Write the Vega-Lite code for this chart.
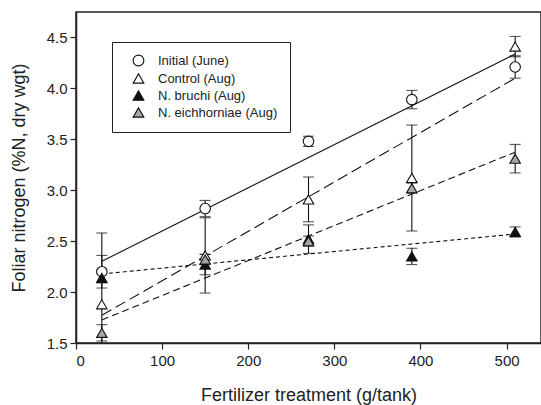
{
  "$schema": "https://vega.github.io/schema/vega-lite/v6.json",
  "autosize": "none",
  "width": 465,
  "height": 331,
  "padding": {"left": 76, "top": 12, "right": 0, "bottom": 62},
  "background": "white",
  "config": {
    "font": "Liberation Sans",
    "view": {"stroke": "#222", "strokeWidth": 1.5},
    "axis": {
      "grid": false,
      "domainColor": "#222",
      "domainWidth": 1.5,
      "tickColor": "#222",
      "tickWidth": 1.2,
      "tickSize": 6,
      "labelFont": "Liberation Sans",
      "labelFontSize": 15,
      "labelColor": "#222",
      "titleFont": "Liberation Sans",
      "titleFontSize": 18,
      "titleFontWeight": "normal",
      "titleColor": "#222"
    },
    "legend": {
      "orient": "none",
      "legendX": 36,
      "legendY": 30,
      "padding": 12,
      "symbolOffset": 8,
      "labelOffset": 13,
      "rowPadding": 2,
      "symbolSize": 115,
      "strokeColor": "#222",
      "fillColor": "white",
      "symbolStrokeWidth": 1.1,
      "labelFont": "Liberation Sans",
      "labelFontSize": 13,
      "labelColor": "#222"
    }
  },
  "data": {
    "values": [
      {"series": "Initial (June)", "x": 30, "mean": 2.2, "err": 0.16},
      {"series": "Initial (June)", "x": 150, "mean": 2.82, "err": 0.08},
      {"series": "Initial (June)", "x": 270, "mean": 3.48, "err": 0.05},
      {"series": "Initial (June)", "x": 390, "mean": 3.89, "err": 0.09},
      {"series": "Initial (June)", "x": 510, "mean": 4.21, "err": 0.11},
      {"series": "Control (Aug)", "x": 30, "mean": 1.88, "err": 0.7},
      {"series": "Control (Aug)", "x": 150, "mean": 2.36, "err": 0.37},
      {"series": "Control (Aug)", "x": 270, "mean": 2.91, "err": 0.22},
      {"series": "Control (Aug)", "x": 390, "mean": 3.12, "err": 0.52},
      {"series": "Control (Aug)", "x": 510, "mean": 4.41, "err": 0.1},
      {"series": "N. bruchi (Aug)", "x": 30, "mean": 2.14, "err": 0.05},
      {"series": "N. bruchi (Aug)", "x": 150, "mean": 2.27, "err": 0.1},
      {"series": "N. bruchi (Aug)", "x": 270, "mean": 2.52, "err": 0.14},
      {"series": "N. bruchi (Aug)", "x": 390, "mean": 2.35, "err": 0.08},
      {"series": "N. bruchi (Aug)", "x": 510, "mean": 2.59, "err": 0.05},
      {"series": "N. eichhorniae (Aug)", "x": 30, "mean": 1.6, "err": 0.08},
      {"series": "N. eichhorniae (Aug)", "x": 150, "mean": 2.32, "err": 0.05},
      {"series": "N. eichhorniae (Aug)", "x": 270, "mean": 2.5, "err": 0.05},
      {"series": "N. eichhorniae (Aug)", "x": 390, "mean": 3.02, "err": 0.05},
      {"series": "N. eichhorniae (Aug)", "x": 510, "mean": 3.31, "err": 0.14}
    ]
  },
  "encoding": {
    "x": {"field": "x", "type": "quantitative", "scale": {"domain": [0, 540], "nice": false, "zero": false},
          "axis": {"values": [0, 100, 200, 300, 400, 500], "labelPadding": 4, "titlePadding": 18}, "title": "Fertilizer treatment (g/tank)"},
    "y": {"field": "mean", "type": "quantitative", "scale": {"domain": [1.5, 4.75], "nice": false, "zero": false},
          "axis": {"values": [1.5, 2.0, 2.5, 3.0, 3.5, 4.0, 4.5], "format": ".1f", "labelPadding": 3, "titlePadding": 18}, "title": "Foliar nitrogen (%N, dry wgt)"}
  },
  "layer": [
    {
      "transform": [{"filter": "datum.series === 'Initial (June)'"}, {"regression": "mean", "on": "x"}],
      "mark": {"type": "line", "color": "#111", "strokeWidth": 1.1, "clip": true},
      "encoding": {}
    },
    {
      "transform": [{"filter": "datum.series === 'Control (Aug)'"}, {"regression": "mean", "on": "x"}],
      "mark": {"type": "line", "color": "#111", "strokeWidth": 1.1, "strokeDash": [11, 5], "clip": true},
      "encoding": {}
    },
    {
      "transform": [{"filter": "datum.series === 'N. bruchi (Aug)'"}, {"regression": "mean", "on": "x"}],
      "mark": {"type": "line", "color": "#111", "strokeWidth": 1.1, "strokeDash": [4, 3], "clip": true},
      "encoding": {}
    },
    {
      "transform": [{"filter": "datum.series === 'N. eichhorniae (Aug)'"}, {"regression": "mean", "on": "x"}],
      "mark": {"type": "line", "color": "#111", "strokeWidth": 1.1, "strokeDash": [7, 4], "clip": true},
      "encoding": {}
    },
    {
      "mark": {"type": "errorbar", "ticks": {"size": 11, "color": "#111"}, "color": "#111", "thickness": 1.1, "clip": true},
      "encoding": {
        "yError": {"field": "err"},
        "detail": {"field": "series"}
      }
    },
    {
      "mark": {"type": "point", "filled": true, "stroke": "#111", "strokeWidth": 1.1, "opacity": 1, "size": 110},
      "encoding": {
        "shape": {"field": "series", "type": "nominal",
          "scale": {"domain": ["Initial (June)", "Control (Aug)", "N. bruchi (Aug)", "N. eichhorniae (Aug)"],
                    "range": ["circle", "triangle-up", "triangle-up", "triangle-up"]},
          "legend": {"title": null}},
        "fill": {"field": "series", "type": "nominal",
          "scale": {"domain": ["Initial (June)", "Control (Aug)", "N. bruchi (Aug)", "N. eichhorniae (Aug)"],
                    "range": ["white", "white", "#111111", "#a8a8a8"]},
          "legend": {"title": null}}
      }
    }
  ]
}
